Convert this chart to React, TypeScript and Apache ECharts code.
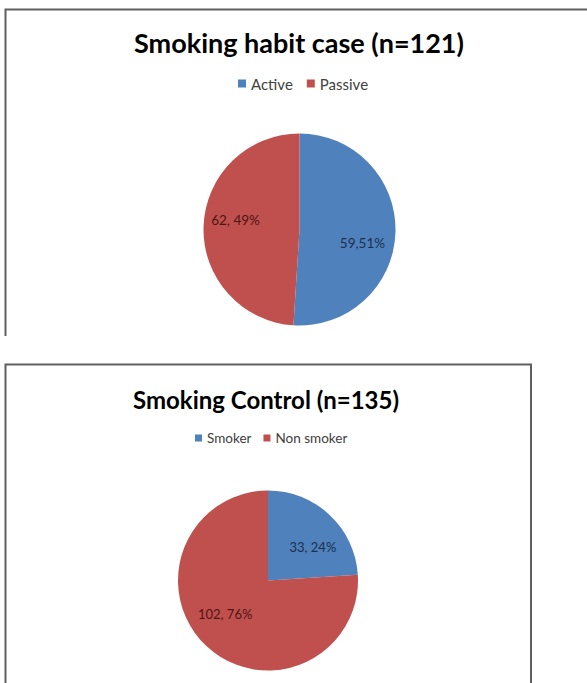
import React, { useEffect, useRef } from "react";
import * as echarts from "echarts";

const caseTitle = "Smoking habit case (n=121)";
const caseNames = ["Active", "Passive"];
const caseCounts = [59, 62];
const caseShares = [51, 49];
const caseLabelTexts = ["59,51%", "62, 49%"];

const controlTitle = "Smoking Control (n=135)";
const controlNames = ["Smoker", "Non smoker"];
const controlCounts = [33, 102];
const controlShares = [24, 76];
const controlLabelTexts = ["33, 24%", "102, 76%"];

const BLUE = "#4F81BD";
const RED = "#C0504D";
const LABEL_DARK = ["#1c2f4d", "#4d1414"];
const FONT = "Lato, 'Noto Sans', sans-serif";

export default function App() {
  const ref = useRef<HTMLDivElement>(null);
  useEffect(() => {
    if (!ref.current) return;
    const chart = echarts.init(ref.current, null, { renderer: "svg" });

    const pieData = (names: string[], shares: number[], counts: number[], texts: string[]) =>
      names.map((n, i) => ({
        name: n,
        value: shares[i],
        count: counts[i],
        itemStyle: { color: i === 0 ? BLUE : RED },
        label: { color: LABEL_DARK[i], formatter: texts[i] },
      }));

    const caseOffsets = [
      { dx: 12, dy: 12 },
      { dx: -13, dy: -8 },
    ];
    const controlOffsets = [
      { dx: 12, dy: 1 },
      { dx: -10, dy: -1 },
    ];

    const borderStyle = { stroke: "#5f5f5f", lineWidth: 2, fill: "none" };

    chart.setOption({
      animation: false,
      backgroundColor: "#ffffff",
      title: [
        {
          text: caseTitle,
          left: 299,
          top: 28,
          textAlign: "center",
          padding: 0,
          textStyle: { fontFamily: FONT, fontWeight: "bold", fontSize: 27, color: "#000", lineHeight: 28 },
        },
        {
          text: controlTitle,
          left: 266,
          top: 386,
          textAlign: "center",
          padding: 0,
          textStyle: { fontFamily: FONT, fontWeight: "bold", fontSize: 24, color: "#000", lineHeight: 26 },
        },
      ],
      legend: [
        {
          data: caseNames,
          left: 238,
          top: 76,
          padding: 0,
          itemWidth: 8,
          itemHeight: 8,
          itemGap: 14,
          icon: "rect",
          selectedMode: false,
          textStyle: { fontFamily: FONT, fontSize: 15, color: "#404040" },
        },
        {
          data: controlNames,
          left: 195,
          top: 431,
          padding: 0,
          itemWidth: 7,
          itemHeight: 7,
          itemGap: 12,
          icon: "rect",
          selectedMode: false,
          textStyle: { fontFamily: FONT, fontSize: 13.5, color: "#404040" },
        },
      ],
      graphic: [
        {
          type: "polyline",
          silent: true,
          shape: { points: [[5.5, 336], [5.5, 9.5], [600, 9.5]] },
          style: borderStyle,
        },
        {
          type: "polyline",
          silent: true,
          shape: { points: [[5.5, 690], [5.5, 364.5], [531, 364.5], [531, 690]] },
          style: borderStyle,
        },
      ],
      series: [
        {
          type: "pie",
          name: caseTitle,
          center: [299.5, 229.5],
          radius: 96,
          startAngle: 90,
          clockwise: true,
          silent: true,
          emphasis: { disabled: true },
          label: { show: true, position: "inside", fontFamily: FONT, fontSize: 13.5 },
          labelLine: { show: false },
          labelLayout: (p: any) => caseOffsets[p.dataIndex],
          data: pieData(caseNames, caseShares, caseCounts, caseLabelTexts),
        },
        {
          type: "pie",
          name: controlTitle,
          center: [268, 580.5],
          radius: 90,
          startAngle: 90,
          clockwise: true,
          silent: true,
          emphasis: { disabled: true },
          label: { show: true, position: "inside", fontFamily: FONT, fontSize: 13 },
          labelLine: { show: false },
          labelLayout: (p: any) => controlOffsets[p.dataIndex],
          data: pieData(controlNames, controlShares, controlCounts, controlLabelTexts),
        },
      ],
    });
    return () => chart.dispose();
  }, []);
  return (
    <div
      ref={ref}
      style={{ position: "absolute", left: 0, top: 0, width: 587, height: 683, background: "#fff" }}
    />
  );
}
